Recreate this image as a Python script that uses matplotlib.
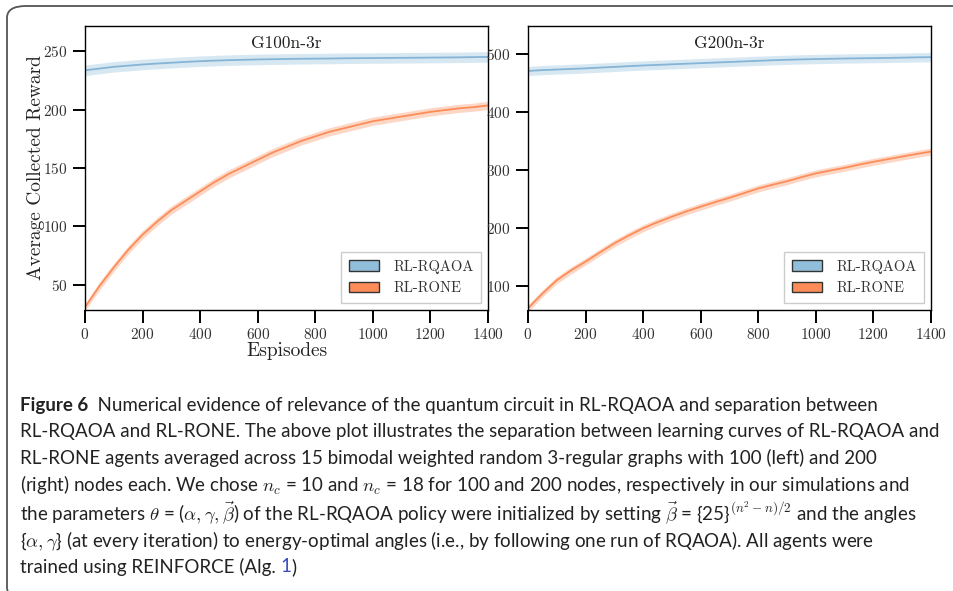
import numpy as np
import matplotlib
matplotlib.use("Agg")
import matplotlib.pyplot as plt
from matplotlib.patches import Patch, FancyBboxPatch

plt.rcParams['mathtext.fontset'] = 'cm'
plt.rcParams['axes.formatter.use_mathtext'] = True

episodes = np.arange(0, 1401, 50)

# G100n-3r
g100_rqaoa = [233.5, 235, 236.5, 237.5, 238.5, 239.3, 240, 240.7, 241.3, 241.8, 242.2, 242.5, 242.8, 243,
              243.2, 243.4, 243.5, 243.6, 243.8, 243.9, 244, 244.1, 244.2, 244.3, 244.4, 244.5, 244.6, 244.8, 245]
g100_rqaoa_sd = [4.5] * 29
g100_rone = [31, 49, 65, 80, 93, 104, 114, 122, 130, 138, 145, 151, 157, 163, 168, 173, 177, 181, 184,
             187, 190, 192, 194, 196, 198, 199.5, 201, 202, 203.5]
g100_rone_sd = [3, 3.5, 3.5, 3.5, 3.5, 3.5, 3.5, 3.5, 3.5, 3.5, 3.5, 3.5, 3.5, 3.5, 3.5, 3.5, 3.5, 3.5, 3.5,
                3.5, 3.5, 3.5, 3.5, 3.5, 3.5, 3.5, 3.5, 3.5, 3.5]

# G200n-3r
g200_rqaoa = [470.5, 472, 473, 474, 475, 476.3, 477.5, 478.8, 480, 481, 482, 483, 484, 485, 486, 487, 488,
              489, 489.8, 490.5, 491, 491.5, 492, 492.3, 492.6, 493, 493.5, 494, 494.3]
g200_rqaoa_sd = [8] * 29
g200_rone = [61.5, 87, 110, 127, 142, 158, 173.5, 187, 199.5, 210, 219.5, 228.5, 236.7, 244.5, 252, 260,
             268, 274.5, 280.5, 287.5, 294, 299, 303.6, 309, 314, 318.5, 323, 327.5, 331.6]
g200_rone_sd = [6] * 29

panels = [
    ("G100n-3r", g100_rqaoa, g100_rqaoa_sd, g100_rone, g100_rone_sd, (28.6, 271.4), [50, 100, 150, 200, 250]),
    ("G200n-3r", g200_rqaoa, g200_rqaoa_sd, g200_rone, g200_rone_sd, (58.6, 548), [100, 200, 300, 400, 500]),
]

blue = "#91bfdb"
orange = "#fc8d59"

fig = plt.figure(figsize=(9.54, 5.91), dpi=100)

# rounded frame around the whole figure
frame = FancyBboxPatch((7 / 954, -8 / 591), 1.2, (591 - 6 + 8) / 591,
                       boxstyle="round,pad=0,rounding_size=0.02", transform=fig.transFigure,
                       facecolor="none", edgecolor="#555555", linewidth=1.3, clip_on=False)
fig.patches.append(frame)

lefts = [85 / 954, 528 / 954]
for i, (title, rq, rq_sd, rn, rn_sd, ylim, yticks) in enumerate(panels):
    ax = fig.add_axes([lefts[i], (591 - 310) / 591, 403 / 954, 284 / 591])
    rq, rq_sd, rn, rn_sd = map(np.array, (rq, rq_sd, rn, rn_sd))
    ax.fill_between(episodes, rq - rq_sd, rq + rq_sd, color=blue, alpha=0.35, linewidth=0)
    ax.plot(episodes, rq, color="#86b4d6", linewidth=1.3)
    ax.fill_between(episodes, rn - rn_sd, rn + rn_sd, color=orange, alpha=0.35, linewidth=0)
    ax.plot(episodes, rn, color=orange, linewidth=1.3)
    ax.set_xlim(0, 1400)
    ax.set_ylim(*ylim)
    ax.set_yticks(yticks)
    ax.set_xticks(range(0, 1401, 200))
    ax.tick_params(direction="out", length=9, width=1.4, labelsize=11, top=False, right=False,
                   labelcolor="#333333")
    for lab in ax.get_xticklabels() + ax.get_yticklabels():
        lab.set_family("cmr10")
    for s in ax.spines.values():
        s.set_linewidth(1.0)
    ax.text(0.5, 0.94, title, transform=ax.transAxes, ha="center", va="center",
            fontsize=12.5, family="cmr10", color="#222222")
    handles = [Patch(facecolor=blue, edgecolor="#333333", linewidth=1.0, label="RL-RQAOA"),
               Patch(facecolor=orange, edgecolor="#333333", linewidth=1.0, label="RL-RONE")]
    leg = ax.legend(handles=handles, loc="lower right", fancybox=False, edgecolor="#cccccc",
                    prop={"family": "cmr10", "size": 10.5}, handlelength=2.1, handletextpad=0.95,
                    borderpad=0.5, borderaxespad=0.5, framealpha=1, labelspacing=0.55)
    for t in leg.get_texts():
        t.set_color("#333333")
    if i == 0:
        ax.set_ylabel("Average Collected Reward", family="cmr10", fontsize=14, labelpad=-1,
                      color="#222222")
        ax.set_xlabel("Espisodes", family="cmr10", fontsize=14, labelpad=0, color="#222222")

# caption
cap_font = ["Lato", "DejaVu Sans"]
cap_size = 12.3
line_y = [405, 431, 458, 485, 513, 541, 567]
x0 = 20 / 954
cap_color = "#222222"

lines = [
    None,
    "RL-RQAOA and RL-RONE. The above plot illustrates the separation between learning curves of RL-RQAOA and",
    "RL-RONE agents averaged across 15 bimodal weighted random 3-regular graphs with 100 (left) and 200",
    r"(right) nodes each. We chose $n_c$ = 10 and $n_c$ = 18 for 100 and 200 nodes, respectively in our simulations and",
    r"the parameters $\theta$ = ($\alpha, \gamma, \vec{\beta}$) of the RL-RQAOA policy were initialized by setting "
    r"$\vec{\beta}$ = {25}$^{(n^2-n)/2}$ and the angles",
    r"{$\alpha, \gamma$} (at every iteration) to energy-optimal angles (i.e., by following one run of RQAOA). All agents were",
    None,
]

texts = []
t_bold = fig.text(x0, 1 - line_y[0] / 591, "Figure 6", family=cap_font, weight="bold",
                  fontsize=cap_size, va="center", color=cap_color)
t_rest = fig.text(0, 0, "  Numerical evidence of relevance of the quantum circuit in RL-RQAOA and separation between",
                  family=cap_font, fontsize=cap_size, va="center", color=cap_color)
texts += [t_bold, t_rest]
for k in range(1, 6):
    texts.append(fig.text(x0, 1 - line_y[k] / 591, lines[k], family=cap_font, fontsize=cap_size,
                          va="center", color=cap_color))
t7 = fig.text(x0, 1 - line_y[6] / 591, "trained using REINFORCE (Alg. ", family=cap_font,
              fontsize=cap_size, va="center", color=cap_color)
t7b = fig.text(0, 0, "1", family=cap_font, fontsize=cap_size, color="#3b4cc0", va="center")
t7c = fig.text(0, 0, ")", family=cap_font, fontsize=cap_size, color=cap_color, va="center")
texts += [t7, t7b, t7c]

# fit caption width to the reference (line 2 spans about 20..944 px)
fig.canvas.draw()
r = fig.canvas.get_renderer()
w = texts[2].get_window_extent(r).width
scale = 924 / w
for t in texts:
    t.set_fontsize(cap_size * scale)
fig.canvas.draw()


def place_after(prev, t):
    bb = prev.get_window_extent(r)
    t.set_position((bb.x1 / fig.bbox.width, prev.get_position()[1]))


place_after(t_bold, t_rest)
place_after(t7, t7b)
fig.canvas.draw()
place_after(t7b, t7c)

fig.savefig("out.png", dpi=100)
